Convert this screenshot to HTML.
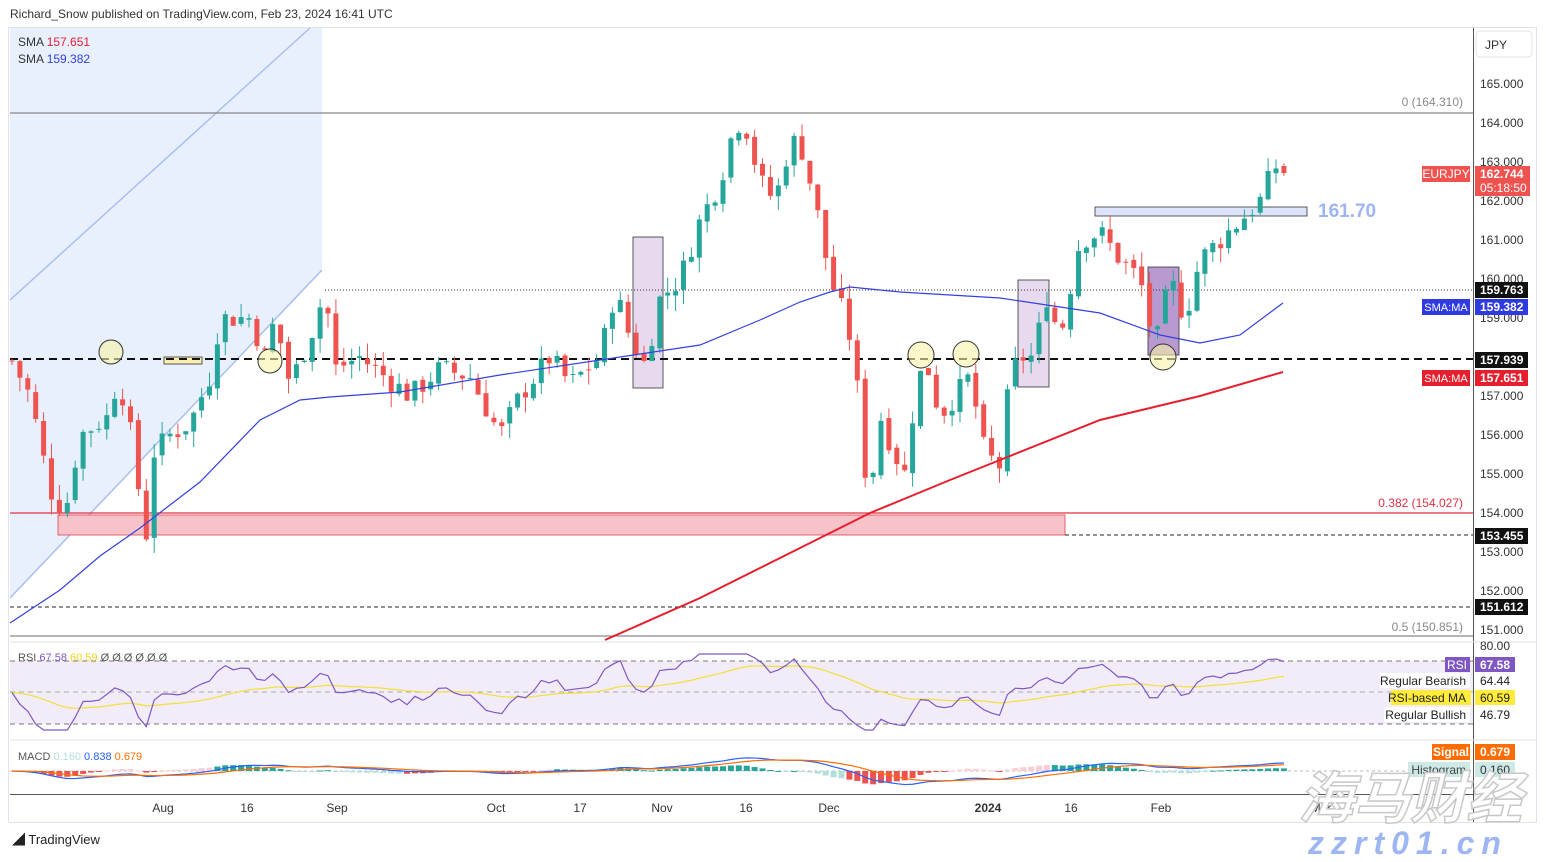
<!DOCTYPE html>
<html><head><meta charset="utf-8"><style>
body{margin:0;background:#fff;width:1546px;height:857px;overflow:hidden;font-family:"Liberation Sans","Noto Sans CJK SC",sans-serif}
svg text{font-family:"Liberation Sans","Noto Sans CJK SC",sans-serif}
</style></head><body>
<svg id="s" width="1546" height="857" xmlns="http://www.w3.org/2000/svg">
<rect x="0" y="0" width="1546" height="857" fill="#fff"/>
<text x="10" y="18" font-size="12" fill="#333">Richard_Snow published on TradingView.com, Feb 23, 2024 16:41 UTC</text>
<rect x="8.5" y="27.5" width="1528" height="795" fill="none" stroke="#e0e3eb"/>
<polygon points="10,28 322,28 322,270 10,598" fill="#e8effd"/>
<line x1="10" y1="300" x2="310" y2="28" stroke="#a9bff2" stroke-width="1.5"/>
<line x1="10" y1="598" x2="322" y2="270" stroke="#a9bff2" stroke-width="1.5"/>
<rect x="58" y="515" width="1007" height="20" fill="#f8c3c8" stroke="#e04050" stroke-width="0.8"/>
<rect x="633" y="237" width="30" height="151" fill="#e7d9ee" stroke="#333" stroke-width="0.8"/>
<rect x="1018" y="280" width="31" height="107" fill="#e7d9ee" stroke="#333" stroke-width="0.8"/>
<rect x="1148" y="267" width="31" height="88" fill="#b99ad0" stroke="#333" stroke-width="0.8"/>
<rect x="1095" y="207" width="212" height="9" fill="#dbe4fb" stroke="#333" stroke-width="0.8"/>
<text x="1318" y="217" font-size="19" fill="#9db5f2" font-weight="bold">161.70</text>
<rect x="164" y="357" width="38" height="7" fill="#f9f0b0" stroke="#333" stroke-width="0.8"/>
<line x1="10" y1="113" x2="1473" y2="113" stroke="#888" stroke-width="1.2"/>
<text x="1463" y="106" font-size="12" fill="#888" text-anchor="end">0 (164.310)</text>
<line x1="10" y1="513" x2="1473" y2="513" stroke="#e03040" stroke-width="1.3"/>
<text x="1463" y="507" font-size="12" fill="#e03040" text-anchor="end">0.382 (154.027)</text>
<line x1="1065" y1="535" x2="1473" y2="535" stroke="#222" stroke-dasharray="4,3"/>
<line x1="10" y1="607" x2="1473" y2="607" stroke="#222" stroke-dasharray="4,3"/>
<line x1="10" y1="636" x2="1473" y2="636" stroke="#888" stroke-width="1.2"/>
<text x="1463" y="631" font-size="12" fill="#888" text-anchor="end">0.5 (150.851)</text>
<line x1="325" y1="290" x2="1473" y2="290" stroke="#333" stroke-dasharray="1,2"/>
<line x1="10" y1="359" x2="1473" y2="359" stroke="#111" stroke-width="2" stroke-dasharray="8,5"/>
<g id="candles"></g>
<polyline fill="none" stroke="#3340e0" stroke-width="1.2" points="10,623 60,590 100,556 140,528 200,482 260,420 300,400 330,397 400,392 500,375 600,360 700,345 760,320 800,302 830,292 850,287 900,292 1000,298 1100,313 1160,335 1200,343 1240,335 1283,303"/>
<polyline fill="none" stroke="#e5202e" stroke-width="2" points="605,640 700,598 800,548 870,513 950,480 1000,460 1100,420 1200,396 1283,372"/>
<g fill="#f9f3a8" fill-opacity="0.6" stroke="#333" stroke-width="1">
<circle cx="111" cy="352" r="12"/><circle cx="270" cy="361" r="12"/><circle cx="921" cy="355" r="13"/><circle cx="966" cy="354" r="13"/><circle cx="1163" cy="357" r="13"/></g>
<text x="18" y="46" font-size="12" fill="#333">SMA <tspan fill="#e5202e">157.651</tspan></text>
<text x="18" y="63" font-size="12" fill="#333">SMA <tspan fill="#3340e0">159.382</tspan></text>
<line x1="1473.5" y1="28" x2="1473.5" y2="822" stroke="#555"/>
<rect x="1476" y="31" width="56" height="26" rx="4" fill="#fff" stroke="#e0e3eb"/>
<text x="1485" y="49" font-size="12" fill="#333">JPY</text>
<g id="axis" font-size="12" fill="#333"></g>
<rect x="1422" y="166" width="48" height="16" fill="#ef5350"/><text x="1446" y="178" font-size="12" fill="#fff" text-anchor="middle">EURJPY</text>
<rect x="1475" y="166" width="55" height="30" fill="#ef5350"/><text x="1480" y="178" font-size="12" fill="#fff" font-weight="bold">162.744</text><text x="1480" y="192" font-size="12" fill="#fff">05:18:50</text>
<rect x="1475" y="282" width="53" height="16" fill="#111"/><text x="1480" y="294" font-size="12" fill="#fff" font-weight="bold">159.763</text>
<rect x="1422" y="299" width="48" height="16" fill="#2f3be0"/><text x="1446" y="311" font-size="11" fill="#fff" text-anchor="middle">SMA:MA</text>
<rect x="1475" y="299" width="53" height="16" fill="#2f3be0"/><text x="1480" y="311" font-size="12" fill="#fff" font-weight="bold">159.382</text>
<rect x="1475" y="352" width="53" height="16" fill="#111"/><text x="1480" y="364" font-size="12" fill="#fff" font-weight="bold">157.939</text>
<rect x="1422" y="370" width="48" height="16" fill="#e5202e"/><text x="1446" y="382" font-size="11" fill="#fff" text-anchor="middle">SMA:MA</text>
<rect x="1475" y="370" width="53" height="16" fill="#e5202e"/><text x="1480" y="382" font-size="12" fill="#fff" font-weight="bold">157.651</text>
<rect x="1475" y="528" width="53" height="16" fill="#111"/><text x="1480" y="540" font-size="12" fill="#fff" font-weight="bold">153.455</text>
<rect x="1475" y="599" width="53" height="16" fill="#111"/><text x="1480" y="611" font-size="12" fill="#fff" font-weight="bold">151.612</text>
<line x1="10" y1="642" x2="1536" y2="642" stroke="#e0e3eb"/>
<text x="1480" y="650" font-size="12" fill="#333">80.00</text>
<rect x="10" y="661" width="1463" height="63" fill="#ede7f6" fill-opacity="0.8"/>
<line x1="10" y1="661" x2="1473" y2="661" stroke="#777" stroke-dasharray="5,4"/>
<line x1="10" y1="692" x2="1473" y2="692" stroke="#aaa" stroke-dasharray="5,4"/>
<line x1="10" y1="724" x2="1473" y2="724" stroke="#777" stroke-dasharray="5,4"/>
<polyline id="rsima" fill="none" stroke="#f2e03a" stroke-width="1.2"/>
<polyline id="rsi" fill="none" stroke="#7e57c2" stroke-width="1.2"/>
<text x="18" y="661" font-size="11" fill="#555">RSI <tspan fill="#7e57c2">67.58</tspan> <tspan fill="#f2d020">60.59</tspan> Ø Ø Ø Ø Ø Ø</text>
<rect x="1445" y="657" width="25" height="15" fill="#7e57c2"/><text x="1457" y="669" font-size="12" fill="#fff" text-anchor="middle">RSI</text>
<rect x="1475" y="657" width="40" height="15" fill="#7e57c2"/><text x="1480" y="669" font-size="12" fill="#fff" font-weight="bold">67.58</text>
<rect x="1380" y="673" width="90" height="15" fill="#fff"/><text x="1466" y="685" font-size="12" fill="#222" text-anchor="end">Regular Bearish</text>
<text x="1480" y="685" font-size="12" fill="#222">64.44</text>
<rect x="1391" y="690" width="80" height="15" fill="#ffeb3b"/><text x="1466" y="702" font-size="12" fill="#222" text-anchor="end">RSI-based MA</text>
<rect x="1475" y="690" width="40" height="15" fill="#ffeb3b"/><text x="1480" y="702" font-size="12" fill="#222">60.59</text>
<rect x="1384" y="707" width="86" height="15" fill="#fff"/><text x="1466" y="719" font-size="12" fill="#222" text-anchor="end">Regular Bullish</text>
<text x="1480" y="719" font-size="12" fill="#222">46.79</text>
<line x1="10" y1="740" x2="1536" y2="740" stroke="#e0e3eb"/>
<line x1="10" y1="771" x2="1473" y2="771" stroke="#bbb" stroke-dasharray="3,3"/>
<g id="hist"></g>
<polyline id="macd" fill="none" stroke="#2962ff" stroke-width="1.2"/>
<polyline id="sig" fill="none" stroke="#ff6d00" stroke-width="1.2"/>
<text x="18" y="760" font-size="11" fill="#555">MACD <tspan fill="#b2dfdb">0.160</tspan> <tspan fill="#2962ff">0.838</tspan> <tspan fill="#ff6d00">0.679</tspan></text>
<rect x="1432" y="744" width="38" height="16" fill="#ff6d00"/><text x="1451" y="756" font-size="12" fill="#fff" font-weight="bold" text-anchor="middle">Signal</text>
<rect x="1475" y="744" width="40" height="16" fill="#ff6d00"/><text x="1480" y="756" font-size="12" fill="#fff" font-weight="bold">0.679</text>
<rect x="1408" y="762" width="62" height="15" fill="#cde9e6"/><text x="1466" y="774" font-size="12" fill="#444" text-anchor="end">Histogram</text>
<rect x="1475" y="762" width="40" height="15" fill="#cde9e6"/><text x="1480" y="774" font-size="12" fill="#333">0.160</text>
<line x1="10" y1="794.5" x2="1473" y2="794.5" stroke="#555"/>
<g font-size="12" fill="#333" text-anchor="middle">
<text x="163" y="812">Aug</text><text x="247" y="812">16</text><text x="337" y="812">Sep</text><text x="496" y="812">Oct</text><text x="580" y="812">17</text><text x="662" y="812">Nov</text><text x="746" y="812">16</text><text x="829" y="812">Dec</text><text x="988" y="812" font-weight="bold">2024</text><text x="1071" y="812">16</text><text x="1161" y="812">Feb</text><text x="1321" y="812">Mar</text></g>
<text x="12" y="844" font-size="13" fill="#222">◢ TradingView</text>
<text x="1298" y="818" font-size="56" font-style="italic" font-weight="bold" fill="#fff" stroke="#c8c8c8" stroke-width="1.5">海马财经</text>
<text x="1308" y="854" font-size="32" font-weight="bold" font-style="italic" fill="#9db5f2" letter-spacing="7">zzrt01.cn</text>
</svg>
<script>
const NS="http://www.w3.org/2000/svg";
function Y(p){return 84+(165-p)*39;}
const kp=[[12,157.9],[30,157],[50,154.6],[65,154],[80,156],[110,156.5],[118,157.6],[135,155.5],[145,153],[152,155.5],[170,156],[190,156.3],[210,157.5],[220,159],[250,159],[265,158],[275,159],[290,157.3],[310,158.5],[325,159.7],[335,157.7],[360,158],[385,157.5],[410,157],[440,157.7],[470,157.5],[500,156],[520,157],[550,158],[570,157.3],[600,158],[615,159.7],[630,158.5],[645,157.8],[660,159.5],[680,160],[700,161.5],[720,162.5],[735,164],[745,164],[760,162.5],[775,162],[790,163.5],[800,163.5],[815,162],[830,160],[845,159],[855,158],[862,155.5],[870,154.5],[880,156.5],[895,155.5],[905,155],[915,157],[925,158],[940,156.5],[955,157],[970,157.5],[985,155.5],[1000,155.2],[1010,157.5],[1020,158],[1035,158],[1045,159.7],[1060,158.5],[1080,161],[1100,161.2],[1120,160.5],[1140,160],[1155,158.2],[1170,160],[1185,159],[1200,160.5],[1220,161],[1240,161.5],[1260,162],[1275,162.9],[1285,162.74]];
function interp(x){for(let i=0;i<kp.length-1;i++){if(x<=kp[i+1][0]){const t=(x-kp[i][0])/(kp[i+1][0]-kp[i][0]);return kp[i][1]+t*(kp[i+1][1]-kp[i][1]);}}return kp[kp.length-1][1];}
let seed=7;function rnd(){seed=(seed*9301+49297)%233280;return seed/233280;}
const g=document.getElementById("candles");let prev=interp(12);let closes=[],xs=[];
for(let x=12;x<=1285;x+=7.9){let c=interp(x)+(rnd()-0.5)*0.6;let o=prev+(rnd()-0.5)*0.15;let hi=Math.max(o,c)+rnd()*0.4,lo=Math.min(o,c)-rnd()*0.4;
const col=c>=o?"#26a69a":"#ef5350";
let l=document.createElementNS(NS,"line");l.setAttribute("x1",x);l.setAttribute("x2",x);l.setAttribute("y1",Y(hi));l.setAttribute("y2",Y(lo));l.setAttribute("stroke",col);g.appendChild(l);
let r=document.createElementNS(NS,"rect");r.setAttribute("x",x-2.5);r.setAttribute("width",5);r.setAttribute("y",Y(Math.max(o,c)));r.setAttribute("height",Math.max(1,Math.abs(o-c)*39));r.setAttribute("fill",col);g.appendChild(r);
prev=c;closes.push(c);xs.push(x);}
let rs=[],ag=0.1,al=0.1;for(let i=0;i<closes.length;i++){let d=i?closes[i]-closes[i-1]:0;ag=(ag*13+Math.max(d,0))/14;al=(al*13+Math.max(-d,0))/14;rs.push(100-100/(1+ag/al));}
function ry(v){return 661+(70-v)*(63/40);}
document.getElementById("rsi").setAttribute("points",rs.map((v,i)=>xs[i]+","+Math.min(730,Math.max(654,ry(v)))).join(" "));
let ma=[],m=rs[0];rs.forEach(v=>{m=m*0.93+v*0.07;ma.push(m)});
document.getElementById("rsima").setAttribute("points",ma.map((v,i)=>xs[i]+","+ry(v)).join(" "));
let e12=closes[0],e26=closes[0],sg=0,mc=[],sgs=[];closes.forEach(c=>{e12+=(c-e12)*2/13;e26+=(c-e26)*2/27;let v=e12-e26;sg+=(v-sg)*0.2;mc.push(v);sgs.push(sg);});
function my(v){return 771-v*9;}
document.getElementById("macd").setAttribute("points",mc.map((v,i)=>xs[i]+","+my(v)).join(" "));
document.getElementById("sig").setAttribute("points",sgs.map((v,i)=>xs[i]+","+my(v)).join(" "));
const h=document.getElementById("hist");mc.forEach((v,i)=>{let d=(v-sgs[i])*9*1.5;let r=document.createElementNS(NS,"rect");r.setAttribute("x",xs[i]-3);r.setAttribute("width",6);r.setAttribute("y",d>0?771-d:771);r.setAttribute("height",Math.max(1,Math.abs(d)));r.setAttribute("fill",v>0?(d>0?"#26a69a":"#b2dfdb"):(d<0?"#ef5350":"#ffcdd2"));h.appendChild(r);});
const ax=document.getElementById("axis");for(let p=151;p<=165;p++){let t=document.createElementNS(NS,"text");t.setAttribute("x",1480);t.setAttribute("y",Y(p)+4);t.textContent=p+".000";ax.appendChild(t);}
</script>
</body></html>
